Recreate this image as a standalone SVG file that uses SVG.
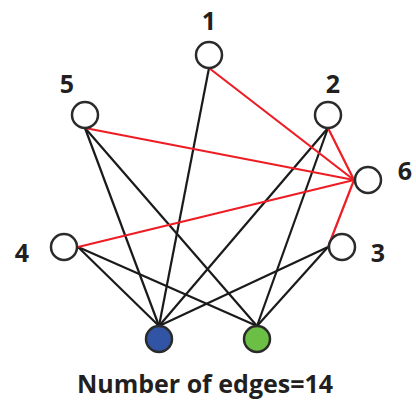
<svg xmlns="http://www.w3.org/2000/svg" width="416" height="404" viewBox="0 0 416 404">
<style>
.n{fill:#fff;stroke:#2b2b2b;stroke-width:2.5}
.lbl{font-family:"Open Sans","Liberation Sans",sans-serif;font-weight:bold;font-size:25px;fill:#231f20;text-anchor:middle}
.k{stroke:#1a1a1a;stroke-width:2.2}
.r{stroke:#ee1c24;stroke-width:2.2}
</style>
<rect width="416" height="404" fill="#fff"/>
<g id="edges">
<line class="k" x1="209" y1="68" x2="159" y2="326"/>
<line class="k" x1="85" y1="128" x2="159" y2="326"/>
<line class="k" x1="85" y1="128" x2="257" y2="326"/>
<line class="k" x1="328" y1="128" x2="159" y2="326"/>
<line class="k" x1="328" y1="128" x2="257" y2="326"/>
<line class="k" x1="78" y1="247" x2="159" y2="326"/>
<line class="k" x1="78" y1="247" x2="257" y2="326"/>
<line class="k" x1="328" y1="247" x2="159" y2="326"/>
<line class="k" x1="328" y1="247" x2="257" y2="326"/>
<line class="r" x1="209" y1="68" x2="354" y2="180"/>
<line class="r" x1="85" y1="128" x2="354" y2="180"/>
<line class="r" x1="328" y1="128" x2="354" y2="180"/>
<line class="r" x1="78" y1="247" x2="354" y2="180"/>
<line class="r" x1="328" y1="247" x2="354" y2="180"/>
</g>
<g id="node1"><circle class="n" cx="209" cy="55" r="13"/><text class="lbl" x="209" y="30">1</text></g>
<g id="node2"><circle class="n" cx="328" cy="115" r="13"/><text class="lbl" x="333" y="93">2</text></g>
<g id="node5"><circle class="n" cx="85" cy="115" r="13"/><text class="lbl" x="67" y="93">5</text></g>
<g id="node6"><circle class="n" cx="368" cy="180" r="13"/><text class="lbl" x="405" y="180">6</text></g>
<g id="node4"><circle class="n" cx="64" cy="247" r="13"/><text class="lbl" x="22" y="262">4</text></g>
<g id="node3"><circle class="n" cx="342" cy="247" r="13"/><text class="lbl" x="378" y="262">3</text></g>
<g id="nodeBlue"><circle class="n" cx="159" cy="339" r="13" style="fill:#3155a4"/></g>
<g id="nodeGreen"><circle class="n" cx="257" cy="339" r="13" style="fill:#6cbf45"/></g>
<text class="lbl" x="205" y="393">Number of edges=14</text>
</svg>
